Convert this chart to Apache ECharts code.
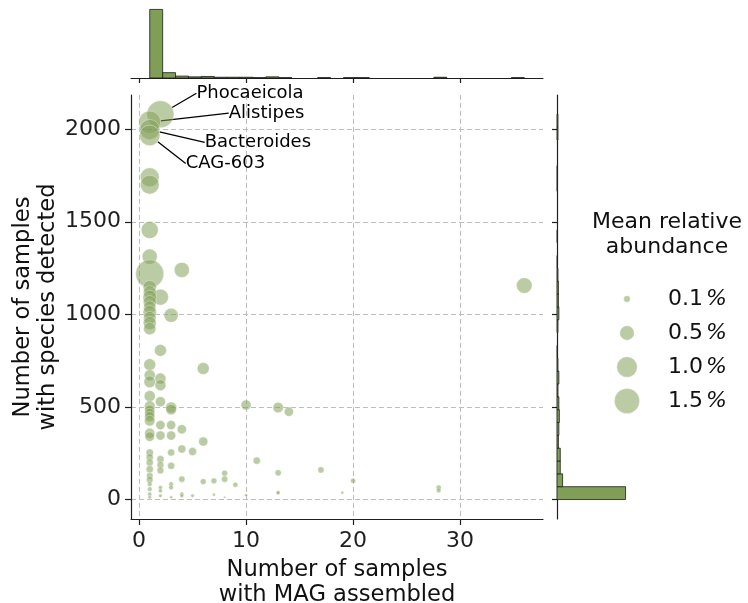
<!DOCTYPE html>
<html>
<head>
<meta charset="utf-8">
<script src="https://cdn.jsdelivr.net/npm/echarts@6/dist/echarts.min.js"></script>
<style>
html, body { margin: 0; padding: 0; background: #ffffff; }
#chart { width: 748px; height: 603px; }
</style>
</head>
<body>
<div id="chart"></div>
<script>
// Per-species values: samples with a MAG assembled, samples where the species was detected,
// and mean relative abundance (%).
const magSamples = [
  1, 1, 1, 1, 1, 4, 2, 3, 1, 1, 1, 1, 1, 1, 1, 1, 1, 36, 2, 1, 6, 1, 1, 2, 2, 1,
  2, 1, 1, 1, 1, 1, 3, 3, 10, 13, 14, 1, 1, 2, 3, 4, 2, 3, 6, 4, 5, 3, 1, 1, 1, 1,
  1, 1, 2, 2, 2, 3, 11, 13, 17, 4, 6, 7, 8, 8, 9, 20, 28, 28, 1, 1, 1, 1, 2, 2, 2,
  3, 3, 3, 4, 4, 5, 7, 8, 10, 13, 13, 19
];
const detectedSamples = [
  1740, 1700, 1455, 1312, 1219, 1240, 1093, 995, 1147, 1120, 1093, 1066, 1039, 1012, 982, 953, 923, 1156, 806, 729, 708, 672, 636, 654, 618, 559,
  529, 505, 484, 466, 448, 426, 498, 487, 511, 498, 475, 358, 340, 403, 403, 380, 346, 346, 314, 274, 260, 255, 254, 229, 201, 165,
  129, 108, 219, 188, 158, 183, 211, 145, 161, 111, 98, 102, 143, 111, 81, 102, 66, 50, 84, 57, 30, 13, 66, 48, 21,
  84, 66, 13, 30, 20, 22, 27, 13, 24, 35, 40, 38
];
const meanAbundance = [
  0.85, 0.85, 0.69, 0.54, 1.87, 0.54, 0.61, 0.47, 0.42, 0.38, 0.45, 0.40, 0.36, 0.42, 0.38, 0.40, 0.36, 0.58, 0.34, 0.34, 0.34, 0.29, 0.32, 0.29, 0.29, 0.29,
  0.24, 0.27, 0.25, 0.24, 0.25, 0.26, 0.29, 0.26, 0.24, 0.26, 0.20, 0.24, 0.22, 0.20, 0.20, 0.20, 0.20, 0.20, 0.20, 0.15, 0.15, 0.12, 0.13, 0.12, 0.12, 0.12,
  0.10, 0.10, 0.12, 0.11, 0.11, 0.12, 0.12, 0.09, 0.09, 0.09, 0.08, 0.08, 0.08, 0.09, 0.06, 0.06, 0.06, 0.05, 0.05, 0.05, 0.04, 0.03, 0.04, 0.04, 0.03,
  0.05, 0.05, 0.02, 0.04, 0.03, 0.03, 0.02, 0.01, 0.02, 0.03, 0.03, 0.02
];

// Labelled genera
const genusNames = ['Phocaeicola', 'Alistipes', 'Bacteroides', 'CAG-603'];
const genusMag = [2, 1, 1, 1];
const genusDetected = [2080, 2038, 1998, 1966];
const genusAbundance = [1.73, 1.15, 0.95, 1.0];

// Marginal histograms (counts per bin)
const magBinRange = [1, 36];
const magBinCounts = [180, 14, 5, 3, 4, 2, 2, 2, 1, 3, 1, 0, 0, 1, 0, 1, 1, 0, 0, 0, 0, 0, 2, 0, 0, 0, 0, 0, 1];
const detectedBinRange = [1, 2080];
const detectedBinCounts = [147, 12, 7, 7, 3, 4, 5, 4, 2, 4, 2, 1, 0, 2, 4, 3, 3, 2, 1, 0, 1, 0, 0, 0, 1, 1, 0, 0, 2, 2];

// Size legend and axis ticks
const legendValues = [0.1, 0.5, 1.0, 1.5];
const xTicks = [0, 10, 20, 30];
const yTicks = [0, 500, 1000, 1500, 2000];

const FONT = 'DejaVu Sans';
const INK = '#1f1f1f';
const BAR = '#819e56';
const POINT = 'rgba(129,158,86,0.68)';
const sizeOf = v => 20.5 * Math.sqrt(v);

// Axis limits with 5% padding around the data
const xLim = [-0.75, 37.75];
const yLim = [-104, 2184];

function binRects(range, counts) {
  const w = (range[1] - range[0]) / counts.length;
  const out = [];
  counts.forEach((c, i) => {
    if (c > 0) out.push([range[0] + i * w, range[0] + (i + 1) * w, c]);
  });
  return out;
}
const magBins = binRects(magBinRange, magBinCounts);
const detectedBins = binRects(detectedBinRange, detectedBinCounts);
const magMax = Math.max(...magBinCounts) * 1.05;
const detectedMax = Math.max(...detectedBinCounts) * 1.05;

const scatterData = magSamples.map((x, i) => [x, detectedSamples[i], meanAbundance[i]]);
const genusData = genusNames.map((n, i) => ({ name: n, value: [genusMag[i], genusDetected[i], genusAbundance[i]] }));
// label anchor offsets (px, from the marker centre)
const genusLabelOffset = [[36, -21], [79, -9], [55, 13], [36, 28]];

const spine = { show: true, onZero: false, lineStyle: { color: INK, width: 1.2 } };
const tickStyle = { color: INK, width: 1.2 };
const pointStyle = { color: POINT, borderColor: 'rgba(255,255,255,0.7)', borderWidth: 0.6 };

function histRect(fill) {
  return (a, b) => ({
    type: 'rect',
    shape: { x: a[0], y: a[1], width: b[0] - a[0], height: b[1] - a[1] },
    style: { fill: fill, stroke: '#1a1a1a', lineWidth: 0.8 }
  });
}
const barRect = histRect(BAR);

const chart = echarts.init(document.getElementById('chart'), null, { renderer: 'canvas' });
chart.setOption({
  animation: false,
  backgroundColor: '#ffffff',
  textStyle: { fontFamily: FONT },
  grid: [
    { left: 131, top: 95, width: 412, height: 424, outerBoundsMode: 'none', containLabel: false },   // joint
    { left: 131, top: 6, width: 412, height: 72, outerBoundsMode: 'none', containLabel: false },     // top marginal
    { left: 557, top: 95, width: 72, height: 424, outerBoundsMode: 'none', containLabel: false },    // right marginal
    { left: 600, top: 282, width: 54, height: 136, outerBoundsMode: 'none', containLabel: false }    // size key
  ],
  graphic: [{
    type: 'text', x: 667, y: 210,
    style: {
      text: 'Mean relative\nabundance', textAlign: 'center',
      font: '22px "DejaVu Sans"', lineHeight: 25, fill: '#111111'
    }
  }],
  xAxis: [
    {
      gridIndex: 0, type: 'value', min: xLim[0], max: xLim[1],
      axisLine: spine,
      axisTick: { show: true, length: 6, customValues: xTicks, lineStyle: tickStyle },
      axisLabel: { customValues: xTicks, fontSize: 22, color: INK, margin: 11, fontFamily: FONT, formatter: v => String(v) },
      splitLine: { show: true, lineStyle: { type: [5, 3], color: '#bdbdbd', width: 1 } },
      name: 'Number of samples\nwith MAG assembled', nameLocation: 'middle', nameGap: 39, nameMoveOverlap: false,
      nameTextStyle: { fontSize: 22.6, lineHeight: 25, color: '#111111', fontFamily: FONT }
    },
    {
      gridIndex: 1, type: 'value', min: xLim[0], max: xLim[1],
      axisLine: spine,
      axisTick: { show: true, length: 5, customValues: xTicks, lineStyle: tickStyle },
      axisLabel: { show: false }, splitLine: { show: false }
    },
    { gridIndex: 2, type: 'value', min: 0, max: detectedMax, show: false, splitLine: { show: false } },
    { gridIndex: 3, type: 'value', min: 0, max: 1, show: false, splitLine: { show: false } }
  ],
  yAxis: [
    {
      gridIndex: 0, type: 'value', min: yLim[0], max: yLim[1],
      axisLine: spine,
      axisTick: { show: true, length: 6, customValues: yTicks, lineStyle: tickStyle },
      axisLabel: { customValues: yTicks, fontSize: 22, color: INK, margin: 10, fontFamily: FONT, formatter: v => String(v) },
      splitLine: { show: true, lineStyle: { type: [5, 3], color: '#bdbdbd', width: 1 } },
      name: 'Number of samples\nwith species detected', nameLocation: 'middle', nameGap: 70, nameRotate: 90,
      nameMoveOverlap: false,
      nameTextStyle: { fontSize: 22.6, lineHeight: 25, color: '#111111', fontFamily: FONT }
    },
    { gridIndex: 1, type: 'value', min: 0, max: magMax, show: false, splitLine: { show: false } },
    {
      gridIndex: 2, type: 'value', min: yLim[0], max: yLim[1],
      axisLine: spine,
      axisTick: { show: true, length: 5, customValues: yTicks, lineStyle: tickStyle },
      axisLabel: { show: false }, splitLine: { show: false }
    },
    {
      gridIndex: 3, type: 'category', inverse: true, position: 'right',
      data: legendValues.map(v => v.toFixed(1)),
      axisLine: { show: false }, axisTick: { show: false }, splitLine: { show: false },
      axisLabel: {
        margin: 14, align: 'left',
        formatter: v => '{n|' + v + '}{p|%}',
        rich: {
          n: { fontSize: 22, color: '#111111', fontFamily: FONT },
          p: { fontSize: 22, color: '#111111', fontFamily: FONT, fontStyle: 'italic', padding: [0, 0, 0, 3] }
        }
      }
    }
  ],
  series: [
    {
      type: 'scatter', xAxisIndex: 0, yAxisIndex: 0,
      data: scatterData,
      symbolSize: v => sizeOf(v[2]),
      itemStyle: pointStyle
    },
    {
      type: 'scatter', xAxisIndex: 0, yAxisIndex: 0,
      data: genusData,
      symbolSize: v => sizeOf(v[2]),
      itemStyle: pointStyle,
      label: {
        show: true, formatter: p => p.name, position: 'right', opacity: 1,
        fontSize: 18, color: '#000000', fontFamily: FONT, textBorderWidth: 0,
        textBorderColor: 'transparent'
      },
      labelLine: { show: true, lineStyle: { color: '#000', width: 1.3, opacity: 1 } },
      labelLayout: p => {
        const o = genusLabelOffset[p.dataIndex];
        return {
          x: p.rect.x + p.rect.width / 2 + o[0],
          y: p.rect.y + p.rect.height / 2 + o[1],
          align: 'left', verticalAlign: 'middle'
        };
      }
    },
    {
      type: 'custom', xAxisIndex: 1, yAxisIndex: 1,
      data: magBins, encode: { x: [0, 1], y: 2 },
      renderItem: (params, api) => barRect(
        api.coord([api.value(0), api.value(2)]),
        api.coord([api.value(1), 0])
      )
    },
    {
      type: 'custom', xAxisIndex: 2, yAxisIndex: 2,
      data: detectedBins, encode: { x: 2, y: [0, 1] },
      renderItem: (params, api) => barRect(
        api.coord([0, api.value(1)]),
        api.coord([api.value(2), api.value(0)])
      )
    },
    {
      type: 'scatter', xAxisIndex: 3, yAxisIndex: 3,
      data: legendValues.map((v, i) => [0.5, i, v]),
      symbolSize: v => sizeOf(v[2]),
      itemStyle: pointStyle
    }
  ]
});
</script>
</body>
</html>
